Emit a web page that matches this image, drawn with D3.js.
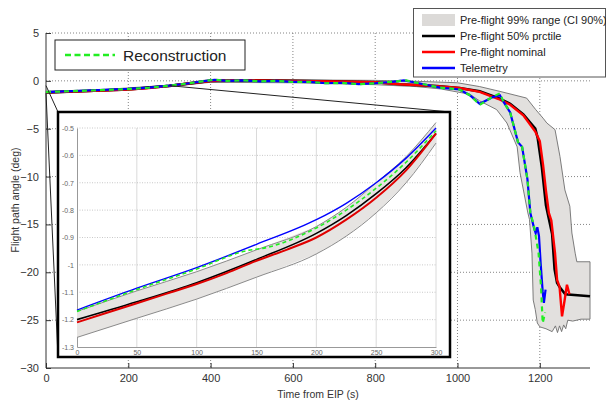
<!DOCTYPE html>
<html><head><meta charset="utf-8">
<script src="https://cdn.jsdelivr.net/npm/d3@7"></script>
<style>
body{margin:0;background:#fff;}
svg{display:block;font-family:"Liberation Sans",Arial,sans-serif;}
</style></head>
<body><svg id="c" width="606" height="401"></svg>
<script>
// ---------- data (main plot: [time s, angle deg]) ----------
const xTicks = [0, 200, 400, 600, 800, 1000, 1200];
const yTicks = [5, 0, -5, -10, -15, -20, -25, -30];
const nominal = [[0,-1.2],[100,-1.07],[200,-0.9],[250,-0.76],[300,-0.53],[350,-0.25],[400,-0.02],[450,0.05],[500,0.05],[600,0.0],[700,-0.05],[800,-0.15],[860,-0.35],[950,-0.55],[1005,-0.75],[1054,-1.15],[1100,-1.9],[1128,-2.5],[1160,-3.6],[1189,-5.3],[1200,-6.3],[1208,-8.8],[1215,-11.5],[1222,-13.8],[1228,-14.6],[1237,-18],[1242,-20.8],[1248,-21.5],[1254,-24.6],[1260,-23],[1266,-21.3],[1272,-22.3]];
const median = [[0,-1.2],[100,-1.06],[200,-0.89],[300,-0.52],[400,-0.02],[500,0.05],[600,0.0],[700,-0.05],[800,-0.15],[860,-0.35],[950,-0.55],[1005,-0.75],[1054,-1.1],[1100,-1.8],[1128,-2.4],[1160,-3.5],[1189,-5.0],[1195,-6.0],[1205,-9.0],[1215,-13.0],[1224,-14.8],[1230,-16.0],[1236,-19.7],[1242,-21.1],[1249,-21.6],[1262,-22.3],[1322,-22.5]];
const telemetry = [[0,-1.17],[100,-1.01],[200,-0.84],[250,-0.7],[300,-0.5],[340,-0.3],[380,-0.05],[410,0.1],[440,0.0],[480,0.05],[520,-0.05],[560,0.0],[600,-0.1],[640,-0.1],[680,-0.25],[720,-0.2],[760,-0.35],[800,-0.25],[840,-0.1],[870,0.05],[900,-0.2],[957,-0.7],[1005,-0.9],[1030,-1.5],[1054,-2.4],[1086,-1.7],[1103,-1.5],[1112,-2.2],[1128,-3.3],[1147,-6.4],[1157,-6.9],[1170,-10.3],[1177,-13.8],[1185,-15.2],[1190,-15.9],[1194,-15.3],[1198,-16.2],[1202,-19.0],[1207,-22.0],[1210,-23.2],[1214,-21.8]];
const reconstruction = [[0,-1.17],[100,-1.02],[200,-0.86],[250,-0.72],[300,-0.51],[340,-0.3],[380,-0.05],[410,0.12],[440,0.0],[480,0.05],[520,-0.05],[560,0.0],[600,-0.12],[640,-0.1],[680,-0.25],[720,-0.22],[760,-0.35],[800,-0.25],[840,-0.1],[875,0.05],[900,-0.2],[957,-0.7],[1005,-0.9],[1030,-1.5],[1054,-2.5],[1080,-1.8],[1103,-1.3],[1112,-2.2],[1128,-3.3],[1147,-6.4],[1157,-6.9],[1170,-10.3],[1177,-13.8],[1185,-15.0],[1190,-16.2],[1197,-18.0],[1203,-21.5],[1207,-25.3],[1213,-24.2]];
const bandUpper = [[0,-1.1],[150,-0.88],[300,-0.45],[400,0.15],[600,0.1],[800,0.05],[900,-0.05],[1000,-0.2],[1054,-0.6],[1103,-1.1],[1168,-1.8],[1190,-3.0],[1208,-3.9],[1217,-4.4],[1237,-5.1],[1249,-7.9],[1261,-11.4],[1273,-13.1],[1278,-15.9],[1286,-18.0],[1290,-18.9],[1322,-18.9],[1322,-24.9]];
const bandLower = [[0,-1.32],[150,-1.05],[300,-0.6],[400,-0.15],[600,-0.2],[800,-0.4],[900,-0.6],[960,-0.85],[1030,-1.4],[1054,-2.1],[1095,-3.0],[1120,-4.4],[1145,-6.9],[1152,-9.6],[1171,-13.8],[1175,-14.5],[1181,-18.0],[1184,-22.9],[1189,-23.9],[1194,-25.3],[1200,-25.7],[1215,-25.9],[1230,-26.2],[1238,-25.6],[1243,-26.3],[1248,-25.6],[1253,-26.2],[1258,-25.5],[1263,-25.9],[1268,-25.0],[1280,-25.1],[1300,-24.9],[1322,-24.9]];

// ---------- data (inset: [time s, angle deg]) ----------
const insetXTicks = [0, 50, 100, 150, 200, 250, 300];
const insetYTicks = [-0.5, -0.6, -0.7, -0.8, -0.9, -1, -1.1, -1.2, -1.3];
const insetNominal = [[0,-1.21],[25,-1.175],[50,-1.14],[75,-1.105],[100,-1.07],[125,-1.03],[150,-0.985],[175,-0.945],[200,-0.9],[225,-0.835],[250,-0.755],[275,-0.655],[300,-0.52]];
const insetMedian = [[0,-1.2],[50,-1.135],[100,-1.065],[150,-0.98],[200,-0.885],[225,-0.82],[250,-0.74],[275,-0.645],[300,-0.52]];
const insetTelemetry = [[0,-1.165],[50,-1.085],[100,-1.01],[150,-0.925],[200,-0.835],[225,-0.775],[250,-0.7],[275,-0.61],[300,-0.5]];
const insetReconstruction = [[0,-1.17],[50,-1.09],[100,-1.015],[140,-0.95],[160,-0.935],[200,-0.865],[225,-0.8],[250,-0.72],[275,-0.625],[300,-0.51]];
const insetBandUpper = [[0,-1.17],[50,-1.095],[100,-1.025],[150,-0.945],[200,-0.86],[225,-0.79],[250,-0.7],[275,-0.605],[300,-0.48]];
const insetBandLower = [[0,-1.265],[50,-1.195],[100,-1.125],[150,-1.045],[200,-0.96],[225,-0.895],[250,-0.81],[275,-0.7],[300,-0.555]];
const zoomWindow = {t: [0, 300], y: [-1.3, -0.5]};

const legendLabels = ["Pre-flight 99% range (CI 90%)", "Pre-flight 50% prctile", "Pre-flight nominal", "Telemetry"];
const legendColors = ["#dcdad8", "#000000", "#ff0000", "#0000ff"];

// ---------- drawing ----------
const svg = d3.select("#c");
const x = d3.scaleLinear().domain([0, 1322]).range([46, 590]);
const y = d3.scaleLinear().domain([-30, 5]).range([368, 33]);
const line = (sx, sy) => d3.line().x(d => sx(d[0])).y(d => sy(d[1]));
const sline = (sx, sy) => d3.line().x(d => sx(d[0])).y(d => sy(d[1])).curve(d3.curveMonotoneX);

// grid
const g = svg.append("g");
g.selectAll(".gx").data(xTicks.filter(t => t > 0)).join("line")
  .attr("x1", d => x(d)).attr("x2", d => x(d)).attr("y1", y(5)).attr("y2", y(-30))
  .attr("stroke", "#666").attr("stroke-width", 0.8).attr("stroke-dasharray", "1,2");
g.selectAll(".gy").data(yTicks.filter(t => t > -30)).join("line")
  .attr("x1", x(0)).attr("x2", x(1322)).attr("y1", d => y(d)).attr("y2", d => y(d))
  .attr("stroke", "#666").attr("stroke-width", 0.8).attr("stroke-dasharray", "1,2");

// axes
const xAxis = d3.axisBottom(x).tickValues(xTicks).tickSize(-5).tickPadding(6).tickFormat(d3.format("d"));
const yAxis = d3.axisLeft(y).tickValues(yTicks).tickSize(-5).tickPadding(7).tickFormat(d3.format("d"));
const ax = svg.append("g").attr("transform", `translate(0,${y(-30)})`).call(xAxis);
const ay = svg.append("g").attr("transform", `translate(${x(0)},0)`).call(yAxis);
[ax, ay].forEach(a => {
  a.select(".domain").attr("stroke", "#333").attr("stroke-width", 1);
  a.selectAll(".tick line").attr("stroke", "#333");
  a.selectAll(".tick text").attr("fill", "#333").style("font-size", "11px");
});
ax.select(".domain").attr("d", `M${x(0)},0H${x(1322)}`);
ay.select(".domain").attr("d", `M0,${y(5)}V${y(-30)}`);

svg.append("text").attr("x", 318).attr("y", 398).attr("text-anchor", "middle")
  .attr("fill", "#333").style("font-size", "10.5px").text("Time from EIP (s)");
svg.append("text").attr("transform", `translate(19,200) rotate(-90)`).attr("text-anchor", "middle")
  .attr("fill", "#333").style("font-size", "10.5px").text("Flight path angle (deg)");

// band
const bandPoly = bandUpper.concat(bandLower.slice().reverse());
svg.append("path").attr("d", line(x, y)(bandPoly) + "Z")
  .attr("fill", "#e2e0de").attr("stroke", "#6e6e6e").attr("stroke-width", 0.9);

// series
svg.append("path").attr("d", line(x, y)(median)).attr("fill", "none").attr("stroke", "#000").attr("stroke-width", 2.6);
svg.append("path").attr("d", line(x, y)(nominal)).attr("fill", "none").attr("stroke", "#ff0000").attr("stroke-width", 2.4);
svg.append("path").attr("d", line(x, y)(telemetry)).attr("fill", "none").attr("stroke", "#0000ff").attr("stroke-width", 2.2);
svg.append("path").attr("d", line(x, y)(reconstruction)).attr("fill", "none").attr("stroke", "#22ee22").attr("stroke-width", 2.2).attr("stroke-dasharray", "5,4");

// inset box geometry
const box = {x0: 58, y0: 112, x1: 450, y1: 357};
// connectors
const conn = [
  [[zoomWindow.t[0], zoomWindow.y[1]], [box.x0, box.y0]],
  [[zoomWindow.t[1], zoomWindow.y[1]], [box.x1, box.y0]],
  [[zoomWindow.t[0], zoomWindow.y[0]], [box.x0, box.y1]]
];
svg.selectAll(".conn").data(conn).join("line")
  .attr("x1", d => x(d[0][0])).attr("y1", d => y(d[0][1]))
  .attr("x2", d => d[1][0]).attr("y2", d => d[1][1])
  .attr("stroke", "#222").attr("stroke-width", 1);

// inset
svg.append("rect").attr("x", box.x0).attr("y", box.y0).attr("width", box.x1 - box.x0).attr("height", box.y1 - box.y0)
  .attr("fill", "#fff").attr("stroke", "#000").attr("stroke-width", 2.5);
const ix = d3.scaleLinear().domain(zoomWindow.t).range([77, 436]);
const iy = d3.scaleLinear().domain(zoomWindow.y).range([347, 128]);
const ig = svg.append("g");
ig.selectAll(".igx").data(insetXTicks.filter(t => t > 0)).join("line")
  .attr("x1", d => ix(d)).attr("x2", d => ix(d)).attr("y1", iy(-0.5)).attr("y2", iy(-1.3))
  .attr("stroke", "#d0d0d0").attr("stroke-width", 0.8);
ig.selectAll(".igy").data(insetYTicks.filter(t => t > -1.3)).join("line")
  .attr("x1", ix(0)).attr("x2", ix(300)).attr("y1", d => iy(d)).attr("y2", d => iy(d))
  .attr("stroke", "#bbb").attr("stroke-width", 0.8).attr("stroke-dasharray", "1,1.5");
const iax = ig.append("g").attr("transform", `translate(0,${iy(-1.3)})`)
  .call(d3.axisBottom(ix).tickValues(insetXTicks).tickSize(0).tickPadding(3));
const iay = ig.append("g").attr("transform", `translate(${ix(0)},0)`)
  .call(d3.axisLeft(iy).tickValues(insetYTicks).tickSize(0).tickPadding(3).tickFormat(d => String(d)));
[iax, iay].forEach(a => {
  a.select(".domain").attr("stroke", "#999").attr("stroke-width", 1);
  a.selectAll(".tick text").attr("fill", "#666").style("font-size", "7px");
});
const iband = insetBandUpper.concat(insetBandLower.slice().reverse());
ig.append("path").attr("d", line(ix, iy)(insetBandUpper.concat(insetBandLower.slice().reverse())) + "Z")
  .attr("fill", "#e6e4e2").attr("stroke", "none");
ig.append("path").attr("d", sline(ix, iy)(insetBandUpper)).attr("fill", "none").attr("stroke", "#8a8a8a").attr("stroke-width", 1);
ig.append("path").attr("d", sline(ix, iy)(insetBandLower)).attr("fill", "none").attr("stroke", "#8a8a8a").attr("stroke-width", 1);
ig.append("path").attr("d", sline(ix, iy)(insetMedian)).attr("fill", "none").attr("stroke", "#000").attr("stroke-width", 1.6);
ig.append("path").attr("d", sline(ix, iy)(insetNominal)).attr("fill", "none").attr("stroke", "#e00000").attr("stroke-width", 2);
ig.append("path").attr("d", sline(ix, iy)(insetTelemetry)).attr("fill", "none").attr("stroke", "#0000ff").attr("stroke-width", 1.4);
ig.append("path").attr("d", sline(ix, iy)(insetReconstruction)).attr("fill", "none").attr("stroke", "#22ee22").attr("stroke-width", 1.6).attr("stroke-dasharray", "4,3");

// reconstruction legend
const rl = svg.append("g");
rl.append("rect").attr("x", 55).attr("y", 40).attr("width", 190).attr("height", 30)
  .attr("fill", "#fff").attr("stroke", "#222").attr("stroke-width", 1);
rl.append("line").attr("x1", 65).attr("x2", 115).attr("y1", 55).attr("y2", 55)
  .attr("stroke", "#22ee22").attr("stroke-width", 2.5).attr("stroke-dasharray", "6,3.5");
rl.append("text").attr("x", 123).attr("y", 60.5).attr("fill", "#222").style("font-size", "15.5px").text("Reconstruction");

// main legend
const lg = svg.append("g");
lg.append("rect").attr("x", 413.5).attr("y", 8.5).attr("width", 192).attr("height", 68.5)
  .attr("fill", "#fff").attr("stroke", "#555").attr("stroke-width", 1);
legendLabels.forEach((lab, i) => {
  const cy = 20 + i * 16;
  if (i === 0) {
    lg.append("rect").attr("x", 422).attr("y", cy - 6).attr("width", 33).attr("height", 12).attr("fill", legendColors[0]);
  } else {
    lg.append("line").attr("x1", 422).attr("x2", 455).attr("y1", cy).attr("y2", cy)
      .attr("stroke", legendColors[i]).attr("stroke-width", 2.4);
  }
  lg.append("text").attr("x", 460).attr("y", cy + 4).attr("fill", "#222").style("font-size", "11px").text(lab);
});
</script></body></html>
